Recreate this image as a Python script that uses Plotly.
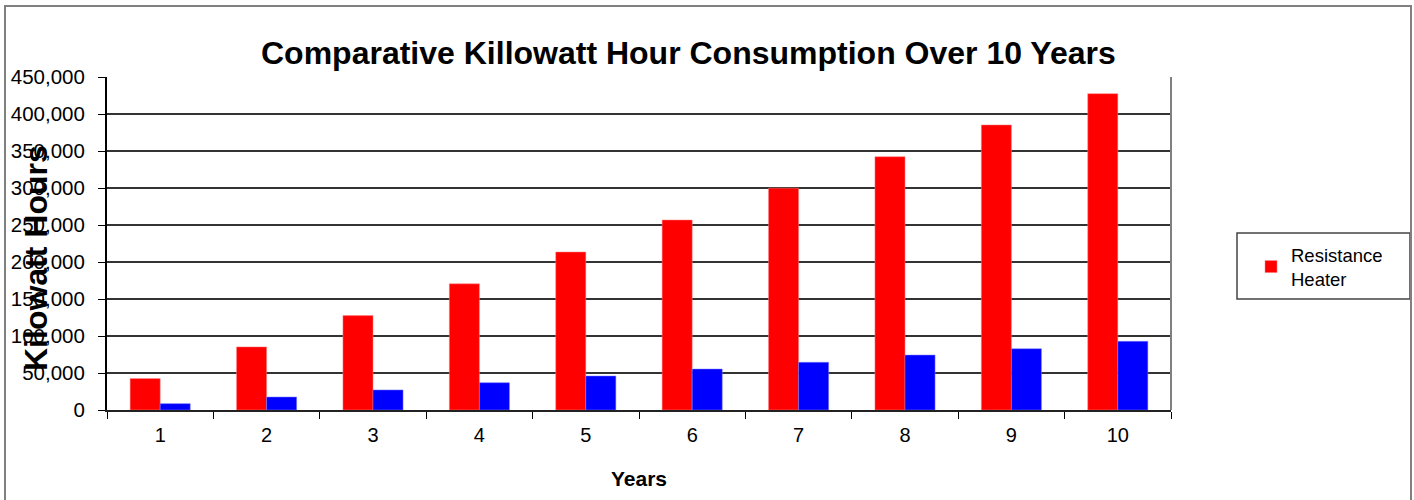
import plotly.graph_objects as go

years = ["1", "2", "3", "4", "5", "6", "7", "8", "9", "10"]
resistance_heater = [42500, 85300, 127600, 170500, 213500, 256800, 299800, 342300, 385200, 427500]
heat_pump = [8600, 17600, 27100, 36900, 46000, 55400, 64500, 74300, 82800, 92800]
y_ticks = [0, 50000, 100000, 150000, 200000, 250000, 300000, 350000, 400000, 450000]
y_tick_labels = ["0", "50,000", "100,000", "150,000", "200,000", "250,000",
                 "300,000", "350,000", "400,000", "450,000"]

W, H = 1414, 500
L, R, T, B = 107, 243, 77, 90
pw = W - L - R
ph = H - T - B

fig = go.Figure()
fig.add_trace(go.Bar(x=years, y=resistance_heater, name="Resistance<br>Heater",
                     marker=dict(color="#FF0000", line=dict(color="#FF8080", width=0.5))))
fig.add_trace(go.Bar(x=years, y=heat_pump, name="Heat Pump", showlegend=False,
                     marker=dict(color="#0000FF", line=dict(color="#8080FF", width=0.5))))

def px_x(x):
    return (x - L) / pw

def px_y(y):
    return (H - B - y) / ph

fig.update_layout(
    width=W, height=H,
    margin=dict(l=L, r=R, t=T, b=B, autoexpand=False),
    paper_bgcolor="white", plot_bgcolor="white",
    barmode="group", bargap=0.435, bargroupgap=0,
    font=dict(family="Arial, Liberation Sans, sans-serif", size=20, color="black"),
    showlegend=True,
    legend=dict(x=px_x(1251), y=px_y(236), xanchor="left", yanchor="top",
                bgcolor="rgba(0,0,0,0)", borderwidth=0,
                font=dict(size=18.5), tracegroupgap=0),
    xaxis=dict(tickmode="array", tickvals=years, ticktext=years,
               showline=True, linecolor="#222222", linewidth=2,
               ticks="outside", tickson="boundaries", ticklen=7, tickcolor="black",
               showgrid=False, tickfont=dict(size=20), ticklabelstandoff=6,
               title=dict(text="<b>Years</b>", font=dict(size=21), standoff=26),
               range=[-0.5, 9.5]),
    yaxis=dict(range=[0, 450000], tickvals=y_ticks, ticktext=y_tick_labels,
               showline=True, linecolor="black", linewidth=2,
               ticks="outside", ticklen=7, tickcolor="black",
               showgrid=True, gridcolor="#333333", gridwidth=1.5,
               zeroline=False, tickfont=dict(size=20.5), ticklabelstandoff=9),
)

# chart title
fig.add_annotation(text="<b>Comparative Killowatt Hour Consumption Over 10 Years</b>",
                   xref="paper", yref="paper", x=px_x(688), y=px_y(53),
                   xanchor="center", yanchor="middle", showarrow=False,
                   font=dict(size=32, color="black"))

# y-axis title overlapping tick labels, as in reference
fig.add_annotation(text="<b>Kilowatt Hours</b>", textangle=-90,
                   xref="paper", yref="paper", x=px_x(36), y=px_y(258),
                   xanchor="center", yanchor="middle", showarrow=False,
                   font=dict(size=32, color="black"))

# right plot border
fig.add_shape(type="line", xref="paper", yref="paper", x0=1, x1=1, y0=0, y1=1,
              line=dict(color="#808080", width=2))
# legend box
fig.add_shape(type="rect", xref="paper", yref="paper",
              x0=px_x(1237), x1=px_x(1410), y0=px_y(233), y1=px_y(299),
              line=dict(color="#444444", width=1.5), fillcolor="rgba(0,0,0,0)")
# outer border
fig.add_shape(type="rect", xref="paper", yref="paper",
              x0=px_x(5), x1=px_x(1411), y0=px_y(6), y1=px_y(505),
              line=dict(color="#808080", width=2), fillcolor="rgba(0,0,0,0)")

fig.write_html("out.html", config={"displayModeBar": False},
               post_script="document.body.style.margin='0';")
